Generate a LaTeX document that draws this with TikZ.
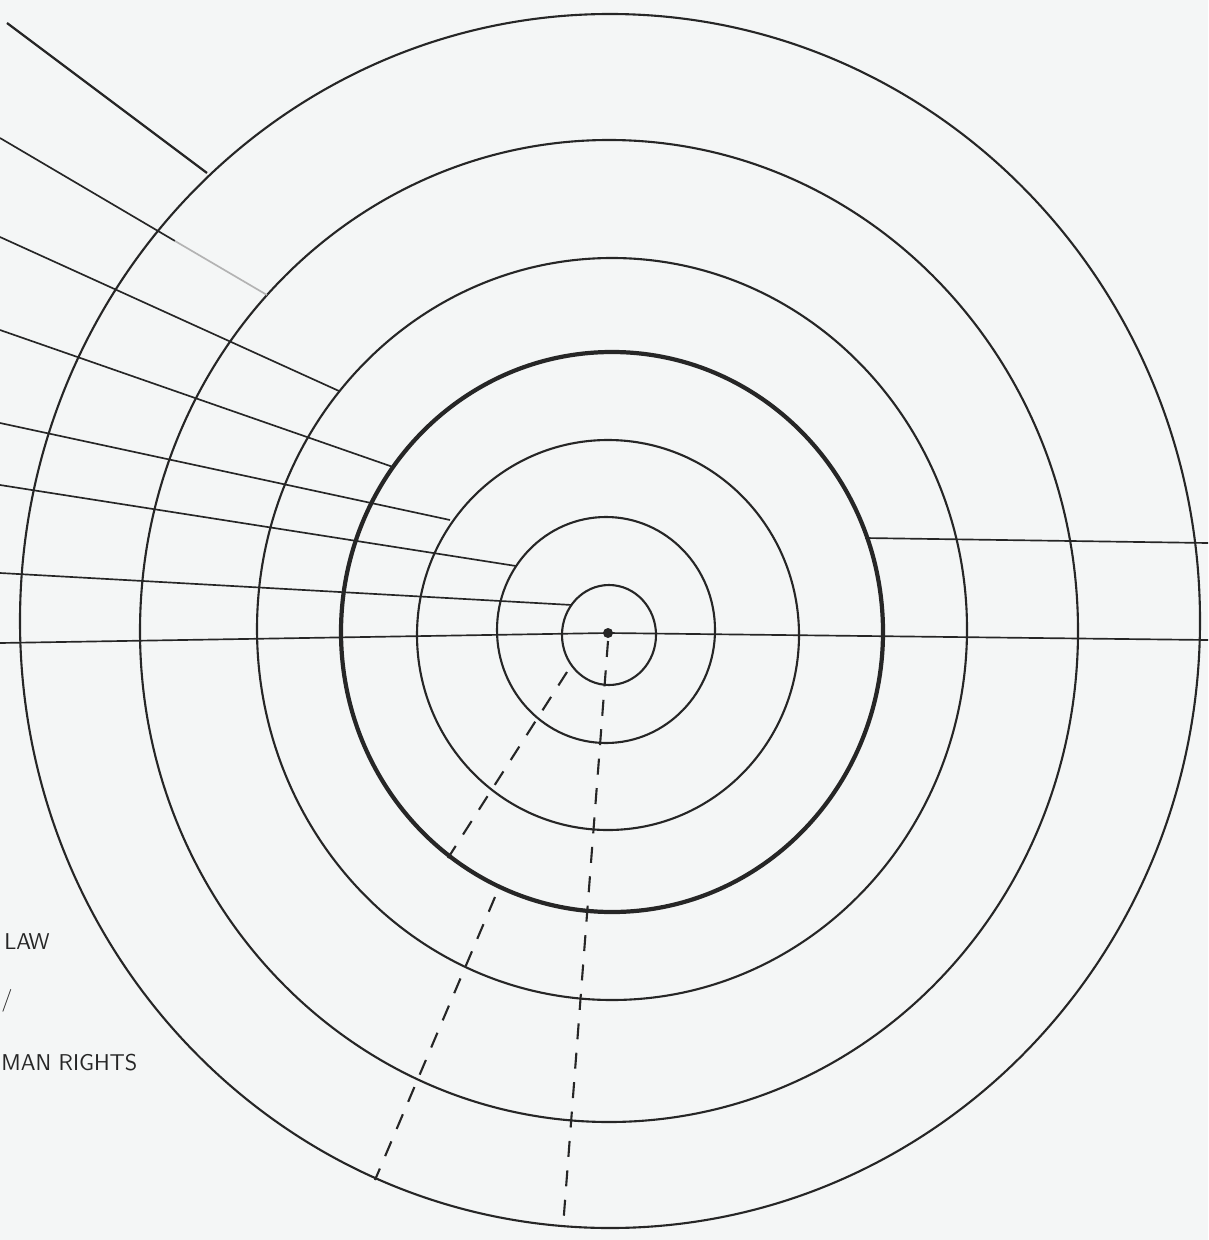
\documentclass[tikz,border=0pt]{standalone}
\usepackage{xcolor}
\usepackage{tikz}
\usetikzlibrary{positioning}
\definecolor{paper}{HTML}{F4F6F6}
\definecolor{ink}{HTML}{262626}

\begin{document}
\begin{tikzpicture}[x=0.02cm, y=-0.02cm,
  ring/.style={draw=ink, line width=1.2pt},
  ringbold/.style={draw=ink, line width=2.4pt},
  spoke/.style={draw=ink, line width=0.95pt},
  dashspoke/.style={draw=ink, line width=1.2pt, dash pattern=on 0.32cm off 0.27cm},
  hand/.style={font=\fontsize{13pt}{15pt}\selectfont\sffamily, text=ink, anchor=west, inner sep=0pt}]
\fill[paper] (0,0) rectangle (1208,1240);
\useasboundingbox (0,0) rectangle (1208,1240);

\draw[ring] (609,635) ellipse [x radius=47, y radius=50];
\draw[ring] (606,630) ellipse [x radius=109, y radius=113];
\draw[ring] (608,635) ellipse [x radius=191, y radius=195];
\draw[ringbold] (612,632) ellipse [x radius=271, y radius=280];
\draw[ring] (612,629) ellipse [x radius=355, y radius=371];
\draw[ring] (609,631) ellipse [x radius=469, y radius=491];
\draw[ring] (610,621) ellipse [x radius=590, y radius=607];

\coordinate (ctr) at (608,633);
\coordinate (hl) at (0,643);
\coordinate (hr) at (1208,640);
\coordinate (l7) at (7,23);    \coordinate (m7) at (207,173);
\coordinate (l6) at (0,138);   \coordinate (f6) at (175,241);  \coordinate (m6) at (267,295);
\coordinate (l5) at (0,237);   \coordinate (m5) at (339,391);
\coordinate (l4) at (0,330);   \coordinate (m4) at (393,467);
\coordinate (l3) at (0,423);   \coordinate (m3) at (450,520);
\coordinate (l2) at (0,485);   \coordinate (m2) at (516,566);
\coordinate (l1) at (0,573);   \coordinate (m1) at (572,605);
\coordinate (r4) at (865,538); \coordinate (rr) at (1208,543);
\coordinate (d1) at (563,1227);
\coordinate (ea) at (567,672); \coordinate (eb) at (448,858);
\coordinate (ec) at (495,897); \coordinate (ed) at (375,1180);

\draw[spoke] (hl) -- (ctr) -- (hr);
\draw[spoke, line width=1.3pt] (l7) -- (m7);
\draw[spoke] (l6) -- (f6);
\draw[spoke, draw=ink!35] (f6) -- (m6);
\draw[spoke] (l5) -- (m5);
\draw[spoke] (l4) -- (m4);
\draw[spoke] (l3) -- (m3);
\draw[spoke] (l2) -- (m2);
\draw[spoke] (l1) -- (m1);
\draw[spoke] (r4) -- (rr);

\draw[dashspoke] (ctr) ++(0,8) -- (d1);
\draw[dashspoke] (ea) -- (eb);
\draw[dashspoke] (ec) -- (ed);
\fill[ink] (ctr) circle [radius=5];

\node[hand] (law) at (4,942) {LAW};
\node[hand] (slash) at (1,1001) {/};
\node[hand] (rights) at (1,1063) {MAN RIGHTS};
\end{tikzpicture}
\end{document}
